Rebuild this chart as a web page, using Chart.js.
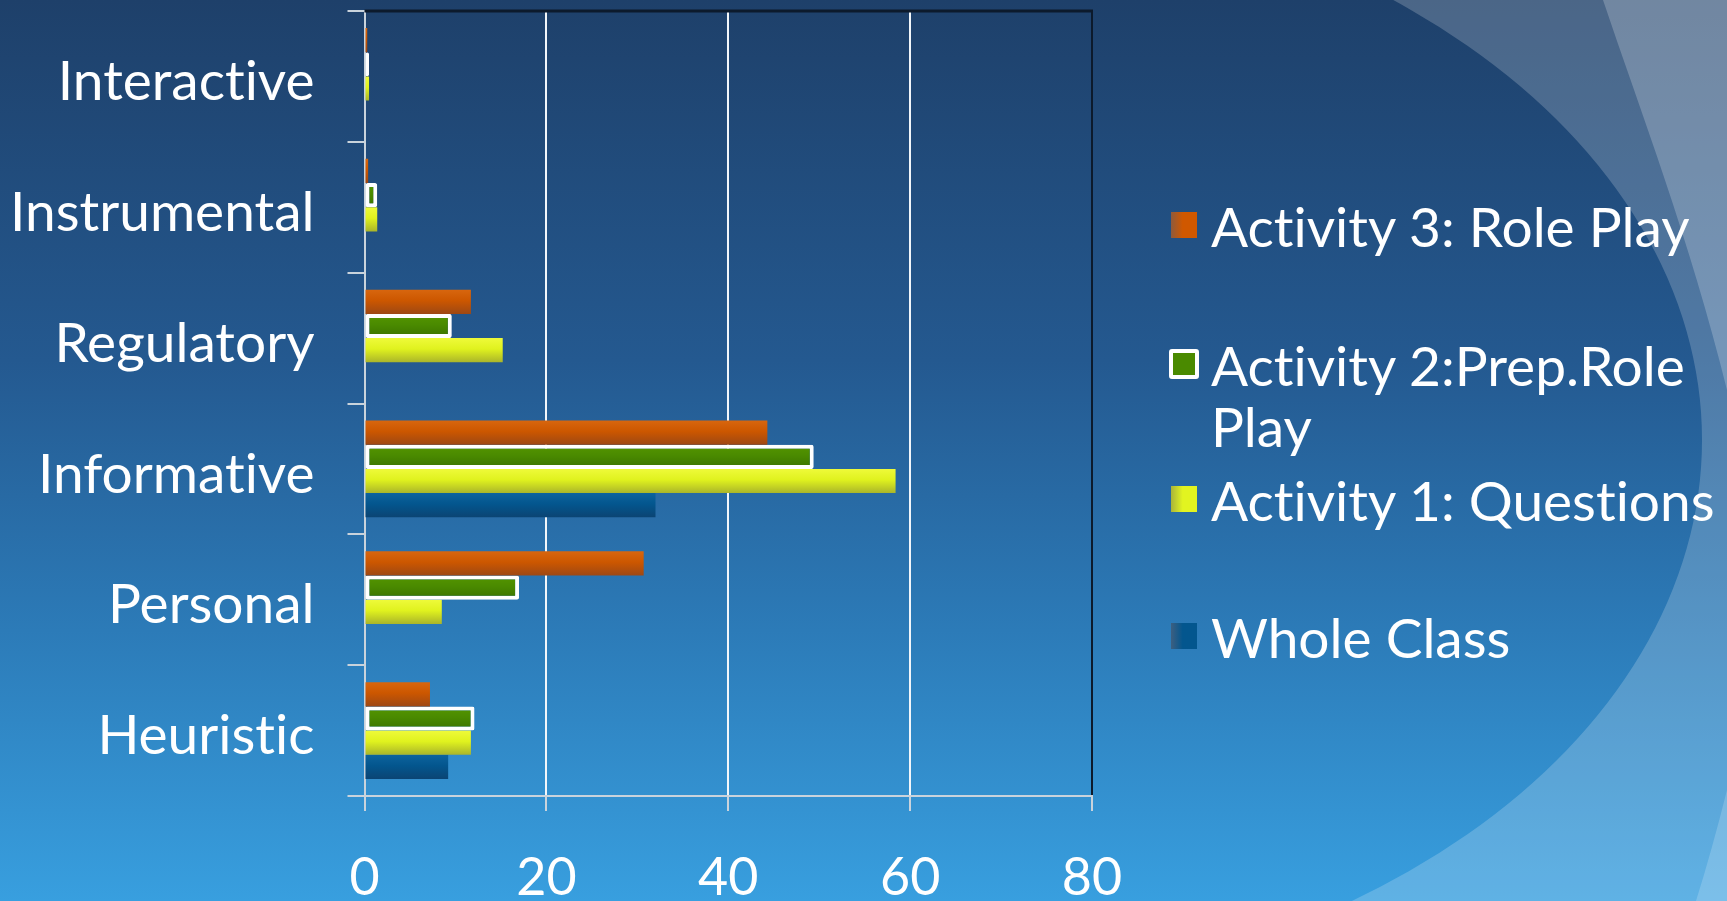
<!DOCTYPE html>
<html>
<head>
<meta charset="utf-8">
<title>Language functions by activity</title>
<script src="https://cdn.jsdelivr.net/npm/chart.js@4.4.0/dist/chart.umd.min.js"></script>
<style>
    html, body { margin: 0; padding: 0; }
    body {
        width: 1727px;
        height: 901px;
        overflow: hidden;
        position: relative;
        background: linear-gradient(to bottom, #1e406a 0%, #245990 40%, #2c7bb8 70%, #389fdf 100%);
        font-family: Lato, sans-serif;
        font-variant-ligatures: none;
    }
    #chartWrap { position: absolute; left: 0; top: 0; width: 1727px; height: 901px; }
    #legend { position: absolute; left: 1166px; top: 0; width: 561px; height: 901px; }
    .legend-item {
        position: absolute;
        left: 0;
        display: flex;
        align-items: flex-start;
        color: #fff;
        font-size: 55px;
        line-height: 61px;
    }
    .legend-slot { width: 45px; flex: none; }
    .legend-box { width: 26px; height: 26px; margin-top: 16px; margin-left: 5px; box-sizing: border-box; }
    .legend-box.outlined { width: 30px; height: 30px; margin-top: 14px; margin-left: 3px; border: 4px solid #fff; border-radius: 3px; }
    .legend-text { width: 516px; }
</style>
</head>
<body>
<div id="chartWrap"><canvas id="functionsChart"></canvas></div>
<div id="legend"></div>

<script>
const categories = ['Interactive', 'Instrumental', 'Regulatory', 'Informative', 'Personal', 'Heuristic'];
const seriesNames = ['Activity 3: Role Play', 'Activity 2:Prep.Role Play', 'Activity 1: Questions', 'Whole Class'];

const rolePlay     = [0.3, 0.4, 11.7, 44.3, 30.7, 7.2];
const prepRolePlay = [0.5, 1.4, 9.6, 49.4, 17.0, 12.1];
const questions    = [0.5, 1.4, 15.2, 58.4, 8.5, 11.7];
const wholeClass   = [0, 0, 0, 32.0, 0, 9.2];

const xTicks = [0, 20, 40, 60, 80];

// shades per series: top, middle, bottom of each bar
const shades = [
    ['#d8660e', '#cc5700', '#9e4814'],
    ['#559600', '#4a8a00', '#3b7200'],
    ['#eefa3a', '#e0f21e', '#aab52a'],
    ['#0d639d', '#03568e', '#0b4473']
];
const CAT_PCT = 0.74;
const legendTops = [196, 335, 470, 607];

function barFill(seriesIndex) {
    const [top, mid, bottom] = shades[seriesIndex];
    return (ctx) => {
        const chart = ctx.chart;
        const y = chart.scales && chart.scales.y;
        if (ctx.type !== 'data' || !chart.chartArea || !y) return mid;
        const band = (y.bottom - y.top) / categories.length;
        const group = band * CAT_PCT;
        const size = group / seriesNames.length;
        const y0 = y.getPixelForValue(ctx.dataIndex) - group / 2 + ctx.datasetIndex * size;
        const g = chart.ctx.createLinearGradient(0, y0, 0, y0 + size);
        g.addColorStop(0, top);
        g.addColorStop(0.45, mid);
        g.addColorStop(1, bottom);
        return g;
    };
}

// soft curved bands on the right and the dark frame along the top
const backdrop = {
    id: 'backdrop',
    beforeDraw(chart) {
        const c = chart.ctx;
        const w = chart.width, h = chart.height;
        c.textRendering = 'optimizeSpeed';
        c.save();
        c.beginPath();
        c.rect(900, 0, w - 900, h);
        c.clip();
        c.beginPath();
        c.rect(0, 0, w, h);
        c.ellipse(900, 440, 802, 558, 0, 0, Math.PI * 2);
        c.fillStyle = 'rgba(255,255,255,0.2)';
        c.fill('evenodd');
        c.restore();

        c.save();
        c.fillStyle = 'rgba(255,255,255,0.22)';
        c.beginPath();
        c.moveTo(1603, 0);
        c.bezierCurveTo(1640, 110, 1690, 240, 1727, 390);
        c.lineTo(w, 0);
        c.closePath();
        c.fill();

        c.fillStyle = 'rgba(255,255,255,0.18)';
        c.beginPath();
        c.moveTo(w, 790);
        c.quadraticCurveTo(1712, 850, 1696, h);
        c.lineTo(w, h);
        c.closePath();
        c.fill();
        c.restore();
    },
    afterDraw(chart) {
        const {left, right, top} = chart.chartArea;
        const c = chart.ctx;
        c.save();
        c.strokeStyle = '#0c1a2c';
        c.lineWidth = 3;
        c.beginPath();
        c.moveTo(left, top);
        c.lineTo(right + 1, top);
        c.stroke();
        c.restore();
    }
};

const seriesValues = [rolePlay, prepRolePlay, questions, wholeClass];

const datasets = seriesNames.map((name, i) => ({
    label: name,
    data: seriesValues[i],
    backgroundColor: barFill(i),
    borderColor: i === 1 ? '#ffffff' : 'rgba(0,0,0,0)',
    borderWidth: i === 1 ? 4 : 0,
    borderSkipped: false,
    borderRadius: i === 1 ? 2 : 0,
    categoryPercentage: CAT_PCT,
    barPercentage: 1.0
}));

const ctx = document.getElementById('functionsChart').getContext('2d');
const chart = new Chart(ctx, {
    type: 'bar',
    data: {
        labels: categories,
        datasets: datasets
    },
    plugins: [backdrop],
    options: {
        indexAxis: 'y',
        responsive: true,
        maintainAspectRatio: false,
        animation: false,
        layout: {
            padding: { top: 11, right: 635, left: 0, bottom: 0 }
        },
        plugins: {
            legend: { display: false },
            tooltip: { enabled: false }
        },
        scales: {
            x: {
                type: 'linear',
                min: xTicks[0],
                max: xTicks[xTicks.length - 1],
                afterBuildTicks: (scale) => {
                    scale.ticks = xTicks.map(v => ({ value: v }));
                },
                afterFit: (scale) => {
                    scale.height = 105;
                    scale.paddingLeft = 0;
                    scale.paddingRight = 0;
                },
                grid: {
                    color: (c) => c.tick && c.tick.value === 80 ? '#0c1a2c' : (c.tick && c.tick.value === 0 ? '#c9d3dc' : '#f2f6fa'),
                    tickColor: '#c9d3dc',
                    lineWidth: 2,
                    tickLength: 15
                },
                border: { color: '#c9d3dc', width: 2 },
                ticks: {
                    color: '#ffffff',
                    padding: 36,
                    font: { family: 'Lato', size: 52 }
                }
            },
            y: {
                afterFit: (scale) => {
                    scale.width = 364.5;
                    scale.paddingTop = 0;
                    scale.paddingBottom = 0;
                },
                grid: {
                    drawOnChartArea: false,
                    color: '#c9d3dc',
                    lineWidth: 2,
                    tickLength: 17
                },
                border: { color: '#c9d3dc', width: 2 },
                ticks: {
                    color: '#ffffff',
                    padding: 33,
                    labelOffset: 6,
                    font: { family: 'Lato', size: 55 }
                }
            }
        }
    }
});

// legend kept outside the canvas so the long entry can wrap
const legendEl = document.getElementById('legend');
const markerFills = [
    'linear-gradient(to right, #8e5a3c, #d05800 45%)',
    '#4a8a00',
    'linear-gradient(to right, #a9b43a, #e2f420 45%)',
    'linear-gradient(to right, #3d5f80, #03568e 45%)'
];
chart.data.datasets.forEach((ds, i) => {
    const item = document.createElement('div');
    item.className = 'legend-item';
    item.style.top = legendTops[i] + 'px';
    const slot = document.createElement('div');
    slot.className = 'legend-slot';
    const box = document.createElement('div');
    box.className = 'legend-box' + (i === 1 ? ' outlined' : '');
    box.style.background = markerFills[i];
    slot.appendChild(box);
    const text = document.createElement('div');
    text.className = 'legend-text';
    text.textContent = ds.label;
    item.appendChild(slot);
    item.appendChild(text);
    legendEl.appendChild(item);
});
</script>
</body>
</html>
